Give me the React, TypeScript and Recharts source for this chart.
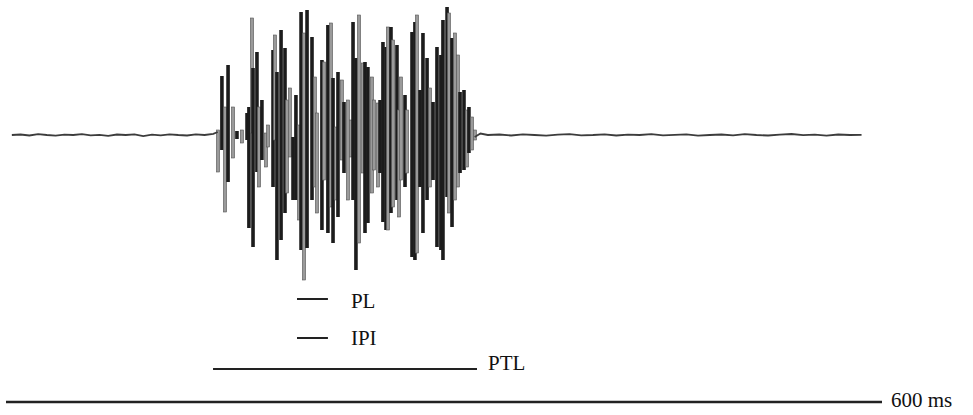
import { ComposedChart, Bar, Line, XAxis, YAxis, ReferenceLine } from 'recharts';

// Oscillogram of a single pulse train. Time in ms, amplitude in arbitrary units (0 = rest).

// vertical strokes of the burst
const burstTimes = [
    145.2, 147.9, 150.0, 152.1, 155.5, 158.2, 161.6, 165.1, 166.4, 168.5,
    169.2, 171.9, 173.3, 175.3, 178.1, 179.5, 182.9, 184.2, 185.6, 188.4,
    191.1, 192.5, 194.5, 196.6, 198.6, 200.7, 202.1, 204.1, 206.2, 209.6,
    211.6, 213.0, 216.4, 217.8, 220.5, 222.6, 224.0, 226.0, 227.4, 230.1,
    231.5, 234.2, 236.3, 237.7, 239.7, 241.8, 244.5, 245.9, 247.9, 250.7,
    252.1, 254.8, 256.2, 258.2, 260.3, 261.6, 263.7, 265.1, 267.8, 269.2,
    270.5, 273.3, 274.7, 278.1, 280.1, 281.5, 283.6, 285.6, 288.4, 290.4,
    292.5, 295.2, 297.9, 299.3, 302.1, 303.4, 305.5, 307.5, 309.6, 311.0,
    313.7, 315.8, 317.1, 319.2, 321.2,
];
const burstHigh = [
    5, 59, 28, 70, 28, 4, 5, 22, 28, 117,
    67, 83, 28, 35, 2, 10, 85, 100, 63, 105,
    87, 35, 47, -2, 40, 10, 123, 102, 125, 98,
    58, 22, 75, 73, 110, 112, 57, 8, 63, 55,
    33, 35, 15, 113, 77, 120, 72, 73, 68, 58,
    35, 32, 35, 93, 88, 108, 108, 95, 90, 25,
    58, 40, 25, 103, 113, 120, 45, 102, 77, 47,
    33, 88, 80, 115, 128, 122, 97, 102, 80, 43,
    45, 25, 28, 18, 5,
];
const burstLow = [
    -37, -15, -77, -47, -23, -4, -8, -5, -93, 2,
    -112, -37, -52, -25, -32, -12, -52, -5, -125, -105,
    -78, -58, -22, -65, -65, -85, -115, -145, -113, -65,
    -52, -78, -95, -45, -98, -72, -108, -65, -82, -25,
    -38, -65, -22, -65, -135, -108, -38, -98, -88, -58,
    -35, -52, -38, -87, -95, -95, -78, -72, -65, -82,
    -45, -52, -38, -122, -125, -118, -52, -98, -65, -52,
    -45, -112, -115, -125, -62, -78, -92, -65, -52, -38,
    -35, -32, -18, -15, -5,
];
// d = dark stroke, g = grey stroke
const burstShade = [
    'g', 'd', 'g', 'd', 'g', 'd', 'g', 'd', 'd', 'g',
    'd', 'd', 'g', 'd', 'g', 'g', 'd', 'g', 'd', 'd',
    'd', 'g', 'g', 'd', 'd', 'g', 'd', 'g', 'd', 'd',
    'g', 'g', 'd', 'g', 'd', 'g', 'd', 'g', 'd', 'g',
    'd', 'g', 'g', 'd', 'd', 'g', 'g', 'd', 'd', 'g',
    'g', 'g', 'd', 'd', 'd', 'g', 'd', 'g', 'd', 'g',
    'g', 'd', 'g', 'd', 'd', 'g', 'd', 'd', 'd', 'g',
    'd', 'd', 'd', 'd', 'd', 'g', 'd', 'g', 'g', 'd',
    'd', 'g', 'd', 'g', 'g',
];

// resting trace before the burst
const restBeforeTimes = [
    4, 10, 16, 22, 28, 34, 40, 46, 52, 58, 64, 70, 76, 82, 88, 94, 100, 106, 112, 118, 124, 130, 136, 142, 145,
];
const restBeforeLevels = [
    0, 0.5, -0.5, 0.8, 0, -0.6, 0.4, 0, 0.9, -0.3, 0.2, -0.8, 0.5, 0, 0.6, -1.2, 0.3, -0.4, 0.7, 0, -0.5, 0.6, 0, 1.2, 3,
];
// resting trace after the burst
const restAfterTimes = [
    321, 325, 330, 338, 346, 354, 362, 370, 378, 386, 394, 402, 410, 418, 426, 434, 442, 450, 458, 466, 474,
    482, 490, 498, 506, 514, 522, 530, 538, 546, 554, 562, 570, 578, 586,
];
const restAfterLevels = [
    -2, 1.5, 0, 0.5, -0.5, 0.6, 0, -0.7, 0.4, 0.8, -0.3, 0, 0.6, -0.5, 0.3, 0, 0.9, -0.4, 0.2, 0.6, -0.6,
    0, 0.5, -0.3, 0.8, 0, -0.5, 0.4, 1.0, -0.2, 0.3, -0.6, 0.5, 0, 0.2,
];

// measurement bars under the trace (ms)
const markerLabels = ['PL', 'IPI', 'PTL', '600 ms'];
const markerStart = [199.3, 199.3, 141.8, 0];
const markerEnd = [220.5, 220.5, 322.6, 600];

// where each marker sits below the trace, and its label offsets
const markerLayout: Record<string, { level: number; gap: number; dy: number; width: number }> = {
    PL: { level: -164, gap: 23, dy: 2, width: 2 },
    IPI: { level: -203, gap: 23, dy: 0, width: 2 },
    PTL: { level: -234, gap: 11, dy: -6, width: 2 },
    '600 ms': { level: -267, gap: 9, dy: -2, width: 2.5 },
};

const burst = burstTimes.map((t, i) => ({
    t,
    range: [burstLow[i], burstHigh[i]],
    shade: burstShade[i],
}));

const restBefore = restBeforeTimes.map((t, i) => ({ t, v: restBeforeLevels[i] }));
const restAfter = restAfterTimes.map((t, i) => ({ t, v: restAfterLevels[i] }));

const FONT = 'Liberation Serif, DejaVu Serif, serif';

function Stroke(props: any) {
    const { x, y, width, height, payload } = props;
    if (x == null || y == null) return null;
    const cx = x + width / 2;
    const top = height < 0 ? y + height : y;
    const h = Math.abs(height);
    const dark = payload.shade === 'd';
    const w = dark ? 3.6 : 3.2;
    return (
        <rect
            x={cx - w / 2}
            y={top}
            width={w}
            height={h}
            fill={dark ? '#1c1c1c' : '#9a9a9a'}
            stroke={dark ? 'none' : '#555'}
            strokeWidth={dark ? 0 : 0.6}
        />
    );
}

function markerLabel(name: string) {
    const lay = markerLayout[name];
    return (props: any) => {
        const vb = props.viewBox || {};
        const x = (vb.x ?? 0) + (vb.width ?? 0) + lay.gap;
        const y = (vb.y ?? 0) + lay.dy;
        return (
            <text
                x={x}
                y={y}
                style={{ fontFamily: FONT, fontSize: 21 }}
                fill="#111"
                dominantBaseline="central"
            >
                {name}
            </text>
        );
    };
}

export default function App() {
    return (
        <div style={{ position: 'absolute', left: 0, top: 0, background: '#fff' }}>
            <ComposedChart
                width={973}
                height={415}
                data={burst}
                margin={{ top: 0, right: 0, bottom: 0, left: 0 }}
            >
                <XAxis type="number" dataKey="t" domain={[-4.11, 662.33]} allowDataOverflow hide />
                <YAxis type="number" domain={[-280, 135]} allowDataOverflow hide />
                <Line
                    data={restBefore}
                    dataKey="v"
                    type="linear"
                    stroke="#3c3c3c"
                    strokeWidth={1.8}
                    dot={false}
                    activeDot={false}
                    isAnimationActive={false}
                />
                <Line
                    data={restAfter}
                    dataKey="v"
                    type="linear"
                    stroke="#3c3c3c"
                    strokeWidth={1.8}
                    dot={false}
                    activeDot={false}
                    isAnimationActive={false}
                />
                <Bar dataKey="range" barSize={3} shape={Stroke} isAnimationActive={false} />
                {markerLabels.map((name, i) => (
                    <ReferenceLine
                        key={name}
                        segment={[
                            { x: markerStart[i], y: markerLayout[name].level },
                            { x: markerEnd[i], y: markerLayout[name].level },
                        ]}
                        stroke="#222"
                        strokeWidth={markerLayout[name].width}
                        label={markerLabel(name)}
                    />
                ))}
            </ComposedChart>
        </div>
    );
}
